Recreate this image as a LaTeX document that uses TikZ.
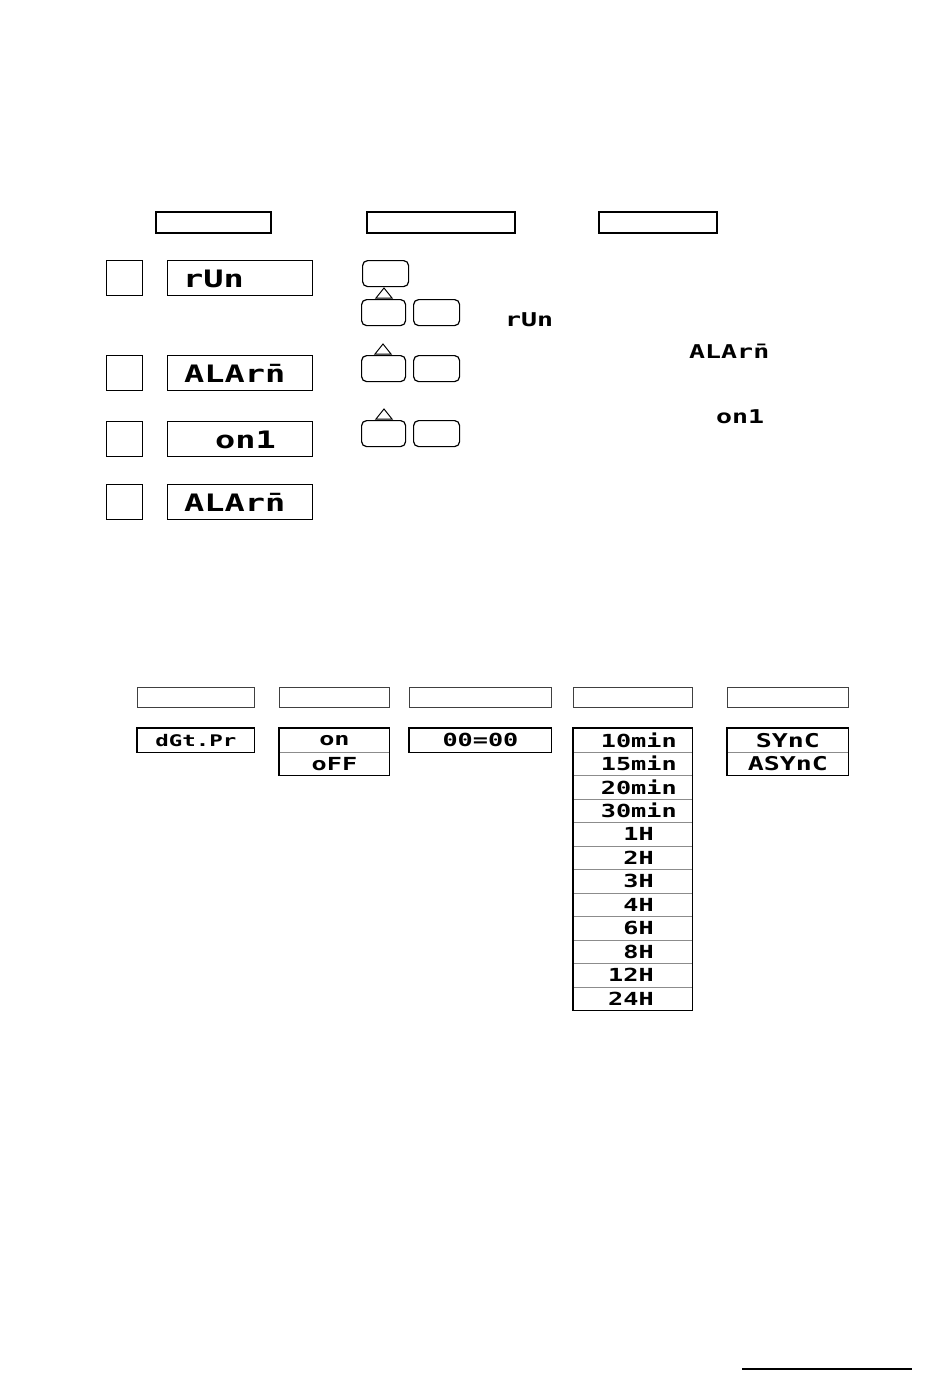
\documentclass[tikz,border=0pt]{standalone}
\usepackage{fontspec}
\newfontfamily\lcd[FakeStretch=1.4]{DejaVu Sans Mono Bold}
\newcommand\lcdbig{\fontsize{24}{24}\selectfont\lcd}
\newcommand\lcdmid{\fontsize{19}{19}\selectfont\lcd}
\newcommand\lcdlist{\fontsize{18}{18}\selectfont\lcd}
\begin{document}
\begin{tikzpicture}[x=1pt,y=-1pt,
  hdr/.style={draw=black,line width=1.6pt,minimum height=21pt,inner sep=0pt,anchor=north west},
  stepbox/.style={draw=black,line width=1.2pt,minimum width=36pt,minimum height=35pt,inner sep=0pt,anchor=north west},
  disp/.style={draw=black,line width=1.3pt,minimum width=145pt,minimum height=35pt,inner sep=0pt,anchor=north west},
  btn/.style={draw=black,line width=1.2pt,rounded corners=5pt,minimum width=44pt,minimum height=26pt,inner sep=0pt,anchor=north west},
  tri/.style={draw=black,line width=1pt},
  dtext/.style={inner sep=0pt,anchor=base west,font=\lcdbig},
  itext/.style={inner sep=0pt,anchor=base west,font=\lcdmid},
  lhdr/.style={draw=black!75,line width=1.2pt,minimum height=20pt,inner sep=0pt,anchor=north west},
  lrow/.style={draw=black!45,line width=0.9pt,minimum height=23.5pt,inner sep=0pt,anchor=north west},
  ltext/.style={inner sep=0pt,font=\lcdlist},
  outer/.style={draw=black,line width=1.1pt}
]
\useasboundingbox (0,0) rectangle (950,1378);

% ---------- top headers ----------
\node[hdr,minimum width=115pt] (h1) at (155,211) {};
\node[hdr,minimum width=148pt] (h2) at (366,211) {};
\node[hdr,minimum width=118pt] (h3) at (598,211) {};

% ---------- step boxes and displays ----------
\node[stepbox] (s1) at (106,260) {};
\node[stepbox] (s2) at (106,355) {};
\node[stepbox] (s3) at (106,421) {};
\node[stepbox] (s4) at (106,484) {};

\node[disp] (d1) at (167,260) {};
\node[disp] (d2) at (167,355) {};
\node[disp] (d3) at (167,421) {};
\node[disp] (d4) at (167,484) {};

\node[dtext] (t1) at (183,287) {rUn};
\node[dtext] (t2) at (184,382) {ALArn̄};
\node[dtext] (t3) at (215,448) {on1};
\node[dtext] (t4) at (184,511) {ALArn̄};

% ---------- keys ----------
\node[btn,minimum width=46pt] (k0) at (362,260) {};
\node[btn] (k1a) at (361,299) {};
\node[btn,minimum width=46pt] (k1b) at (413,299) {};
\node[btn] (k2a) at (361,355) {};
\node[btn,minimum width=46pt] (k2b) at (413,355) {};
\node[btn] (k3a) at (361,420) {};
\node[btn,minimum width=46pt] (k3b) at (413,420) {};

\draw[tri] (376,298) -- (384,288) -- (392,298) -- cycle;
\draw[tri] (375,354) -- (383,344) -- (391,354) -- cycle;
\draw[tri] (376,419) -- (384,409) -- (392,419) -- cycle;

% ---------- inline texts ----------
\node[itext] (i1) at (505,326) {rUn};
\node[itext] (i2) at (689,358) {ALArn̄};
\node[itext] (i3) at (716,423) {on1};

% ---------- lower headers ----------
\node[lhdr,minimum width=117pt] (ha) at (137,687) {};
\node[lhdr,minimum width=110pt] (hb) at (279,687) {};
\node[lhdr,minimum width=142pt] (hc) at (409,687) {};
\node[lhdr,minimum width=119pt] (hd) at (573,687) {};
\node[lhdr,minimum width=121pt] (he) at (727,687) {};

% ---------- column A ----------
\node[lrow,minimum width=117pt] (a1) at (137,728) {};
\draw[outer] (a1.north west) rectangle (a1.south east);
\node[ltext,font=\fontsize{16}{16}\selectfont\lcd] (ta1) at (a1.center) {dGt.Pr};

% ---------- column B ----------
\node[lrow,minimum width=110pt] (b1) at (279,728) {};
\node[lrow,minimum width=110pt] (b2) at (279,751.5) {};
\draw[outer] (b1.north west) rectangle (b2.south east);
\node[ltext] (tb1) at (b1.center) {on};
\node[ltext] (tb2) at (b2.center) {oFF};

% ---------- column C ----------
\node[lrow,minimum width=142pt] (c1) at (409,728) {};
\draw[outer] (c1.north west) rectangle (c1.south east);
\node[ltext] (tc1) at (c1.center) {00=00};

% ---------- column D ----------
\foreach \i in {1,...,12}{
  \node[lrow,minimum width=119pt] (r\i) at (573,{728+23.5*(\i-1)}) {};
}
\draw[outer] (r1.north west) rectangle (r12.south east);
\node[ltext,anchor=east] (tr1) at ([xshift=-16pt]r1.east) {10min};
\node[ltext,anchor=east] (tr2) at ([xshift=-16pt]r2.east) {15min};
\node[ltext,anchor=east] (tr3) at ([xshift=-16pt]r3.east) {20min};
\node[ltext,anchor=east] (tr4) at ([xshift=-16pt]r4.east) {30min};
\node[ltext,anchor=east] (tr5) at ([xshift=-39pt]r5.east) {1H};
\node[ltext,anchor=east] (tr6) at ([xshift=-39pt]r6.east) {2H};
\node[ltext,anchor=east] (tr7) at ([xshift=-39pt]r7.east) {3H};
\node[ltext,anchor=east] (tr8) at ([xshift=-39pt]r8.east) {4H};
\node[ltext,anchor=east] (tr9) at ([xshift=-39pt]r9.east) {6H};
\node[ltext,anchor=east] (tr10) at ([xshift=-39pt]r10.east) {8H};
\node[ltext,anchor=east] (tr11) at ([xshift=-39pt]r11.east) {12H};
\node[ltext,anchor=east] (tr12) at ([xshift=-39pt]r12.east) {24H};

% ---------- column E ----------
\node[lrow,minimum width=121pt] (e1) at (727,728) {};
\node[lrow,minimum width=121pt] (e2) at (727,751.5) {};
\draw[outer] (e1.north west) rectangle (e2.south east);
\node[ltext,font=\fontsize{19}{19}\selectfont\lcd] (te1) at (e1.center) {SYnC};
\node[ltext,font=\fontsize{19}{19}\selectfont\lcd] (te2) at (e2.center) {ASYnC};

% ---------- bottom rule ----------
\coordinate (L1) at (742,1369);
\coordinate (L2) at (912,1369);
\draw[line width=1.3pt] (L1) -- (L2);
\end{tikzpicture}
\end{document}
